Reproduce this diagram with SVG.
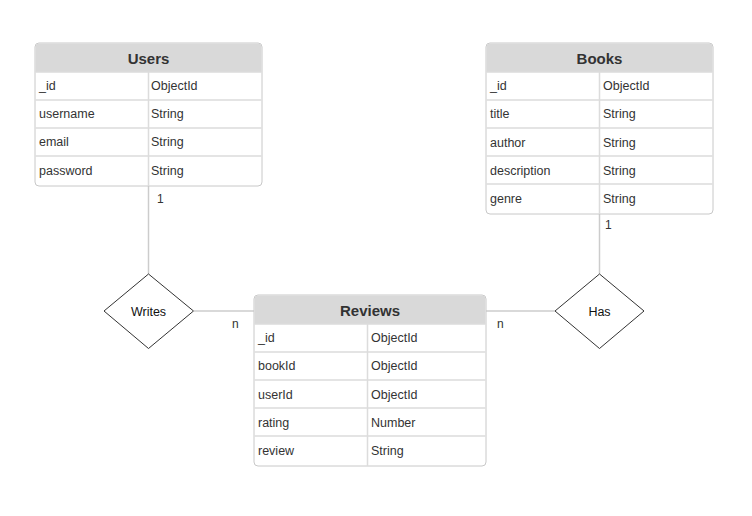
<svg xmlns="http://www.w3.org/2000/svg" width="752" height="516" viewBox="0 0 752 516">
<style>
.box{fill:#fff;stroke:#c8c8c8;stroke-width:1}
.hdr{fill:#d9d9d9}
.sep{stroke:#dcdcdc;stroke-width:1.5;fill:none}
.title{font-family:"Liberation Sans",Arial,sans-serif;font-size:15px;font-weight:bold;fill:#333;text-anchor:middle}
.f{font-family:"Liberation Sans",Arial,sans-serif;font-size:12.5px;fill:#333}
.conn{stroke:#cccccc;stroke-width:1.5;fill:none}
.dia{fill:#fff;stroke:#333;stroke-width:1}
.dl{font-family:"Liberation Sans",Arial,sans-serif;font-size:12.5px;fill:#111;text-anchor:middle}
.card{font-family:"Liberation Sans",Arial,sans-serif;font-size:12px;fill:#333}
</style>
<rect width="752" height="516" fill="#fff"/>
<g id="connectors">
<line class="conn" x1="148.5" y1="186" x2="148.5" y2="274"/>
<line class="conn" x1="194" y1="311" x2="254" y2="311"/>
<line class="conn" x1="486" y1="311" x2="555" y2="311"/>
<line class="conn" x1="599.5" y1="214" x2="599.5" y2="274"/>
<text class="card" x="157" y="203">1</text>
<text class="card" x="232" y="328">n</text>
<text class="card" x="497" y="328">n</text>
<text class="card" x="605" y="229">1</text>
</g>
<g id="users">
<rect class="box" x="35" y="43" width="227" height="143" rx="4"/>
<path class="hdr" d="M39,43.5 H258 A3.5,3.5 0 0 1 261.5,47 V72 H35.5 V47 A3.5,3.5 0 0 1 39,43.5 Z"/>
<path class="sep" d="M35.5,72 H261.5 M35.5,100 H261.5 M35.5,128 H261.5 M35.5,156 H261.5 M148.5,72 V186"/>
<text class="title" x="148.5" y="64">Users</text>
<text class="f" x="39" y="90">_id</text><text class="f" x="151" y="90">ObjectId</text>
<text class="f" x="39" y="118">username</text><text class="f" x="151" y="118">String</text>
<text class="f" x="39" y="146">email</text><text class="f" x="151" y="146">String</text>
<text class="f" x="39" y="175">password</text><text class="f" x="151" y="175">String</text>
</g>
<g id="books">
<rect class="box" x="486" y="43" width="227" height="171" rx="4"/>
<path class="hdr" d="M490,43.5 H709 A3.5,3.5 0 0 1 712.5,47 V72 H486.5 V47 A3.5,3.5 0 0 1 490,43.5 Z"/>
<path class="sep" d="M486.5,72 H712.5 M486.5,100 H712.5 M486.5,128 H712.5 M486.5,156 H712.5 M486.5,184 H712.5 M599.5,72 V214"/>
<text class="title" x="599.5" y="64">Books</text>
<text class="f" x="490" y="90">_id</text><text class="f" x="603" y="90">ObjectId</text>
<text class="f" x="490" y="118">title</text><text class="f" x="603" y="118">String</text>
<text class="f" x="490" y="147">author</text><text class="f" x="603" y="147">String</text>
<text class="f" x="490" y="175">description</text><text class="f" x="603" y="175">String</text>
<text class="f" x="490" y="203">genre</text><text class="f" x="603" y="203">String</text>
</g>
<g id="reviews">
<rect class="box" x="254" y="295" width="232" height="171" rx="4"/>
<path class="hdr" d="M258,295.5 H482 A3.5,3.5 0 0 1 485.5,299 V324 H254.5 V299 A3.5,3.5 0 0 1 258,295.5 Z"/>
<path class="sep" d="M254.5,324 H485.5 M254.5,352 H485.5 M254.5,380 H485.5 M254.5,408 H485.5 M254.5,436 H485.5 M367.5,324 V466"/>
<text class="title" x="370" y="316">Reviews</text>
<text class="f" x="258" y="342">_id</text><text class="f" x="371" y="342">ObjectId</text>
<text class="f" x="258" y="370">bookId</text><text class="f" x="371" y="370">ObjectId</text>
<text class="f" x="258" y="399">userId</text><text class="f" x="371" y="399">ObjectId</text>
<text class="f" x="258" y="427">rating</text><text class="f" x="371" y="427">Number</text>
<text class="f" x="258" y="455">review</text><text class="f" x="371" y="455">String</text>
</g>
<g id="writes">
<polygon class="dia" points="148.5,274 193.5,311 148.5,348.5 104,311"/>
<text class="dl" x="148.5" y="315.5">Writes</text>
</g>
<g id="has">
<polygon class="dia" points="599.5,274 644,311 599.5,348.5 555,311"/>
<text class="dl" x="599.5" y="315.5">Has</text>
</g>
</svg>
